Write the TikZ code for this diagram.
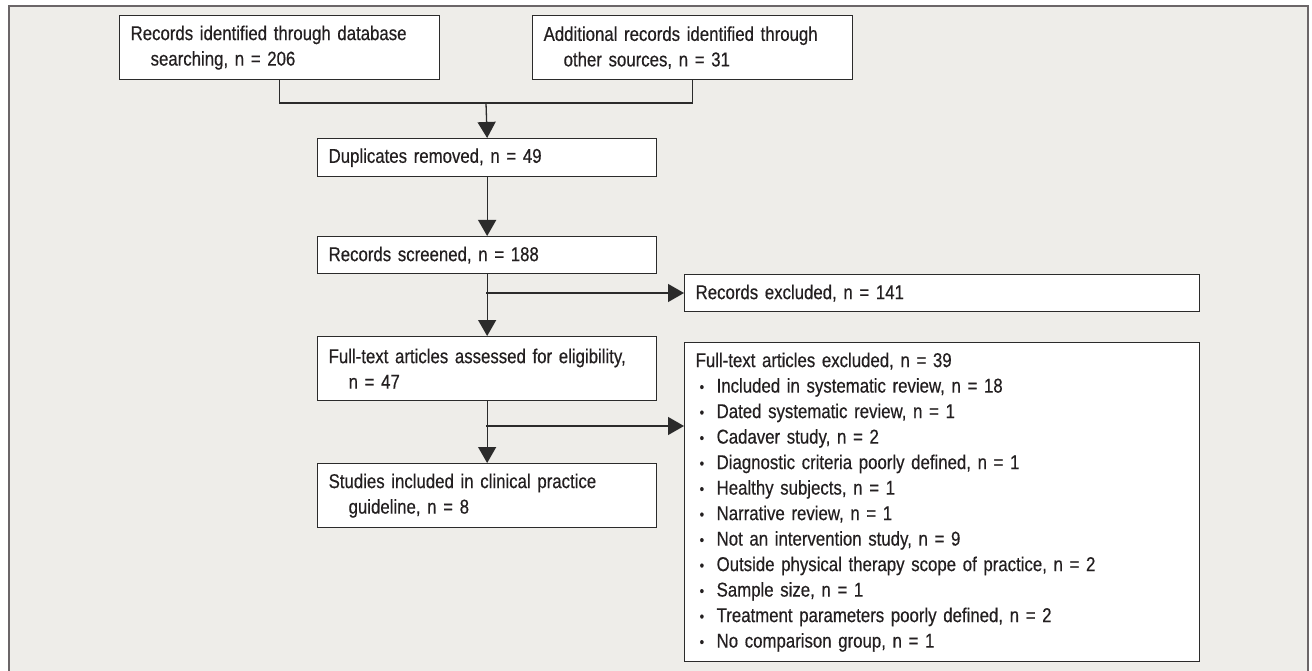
\documentclass[tikz,border=0pt]{standalone}
\usepackage{fontspec}
\setmainfont{Liberation Sans}[FakeStretch=0.84, WordSpace=0.85, FakeBold=0.4]
\usetikzlibrary{arrows.meta}
\definecolor{bgcol}{HTML}{EEEDE9}
\definecolor{framecol}{HTML}{6B6668}
\definecolor{linecol}{HTML}{2B2B2B}
\definecolor{textcol}{HTML}{231F20}
\newcommand{\blt}{\hspace*{4pt}\makebox[17pt][l]{\raisebox{0.5pt}{\fontsize{15}{15}\selectfont •}}}
\tikzset{
  box/.style={draw=linecol, line width=1.3pt, fill=white, anchor=north west,
    inner xsep=11pt, inner ysep=0pt, align=left, text=textcol,
    font=\fontsize{20}{25.5}\selectfont},
  flow/.style={draw=linecol, line width=1.3pt},
  arr/.style={flow, -{Triangle[length=16pt,width=18pt]}}
}
\begin{document}
\begin{tikzpicture}[x=1pt,y=-1pt]
\useasboundingbox (0,0) rectangle (1312,671);
\clip (0,0) rectangle (1312,671);
\fill[white] (0,0) rectangle (1312,671);
\draw[framecol, line width=1.5pt, fill=bgcol] (9,6) rectangle (1308,700);

\node[box, text width=298pt, minimum height=64pt] (b1) at (119,15)
  {Records identified through database\\\hspace*{20pt}searching, n = 206};
\node[box, text width=298pt, minimum height=64pt] (b2) at (532,15)
  {Additional records identified through\\\hspace*{20pt}other sources, n = 31};
\node[box, text width=317pt, minimum height=38pt] (dup) at (317,138)
  {Duplicates removed, n = 49};
\node[box, text width=317pt, minimum height=37pt] (scr) at (317,236)
  {Records screened, n = 188};
\node[box, text width=493pt, minimum height=37pt] (ex1) at (684,274)
  {Records excluded, n = 141};
\node[box, text width=317pt, minimum height=64pt] (full) at (317,336)
  {Full-text articles assessed for eligibility,\\\hspace*{20pt}n = 47};
\node[box, text width=493pt, minimum height=319pt] (ex2) at (684,342)
  {Full-text articles excluded, n = 39\\
   \blt Included in systematic review, n = 18\\
   \blt Dated systematic review, n = 1\\
   \blt Cadaver study, n = 2\\
   \blt Diagnostic criteria poorly defined, n = 1\\
   \blt Healthy subjects, n = 1\\
   \blt Narrative review, n = 1\\
   \blt Not an intervention study, n = 9\\
   \blt Outside physical therapy scope of practice, n = 2\\
   \blt Sample size, n = 1\\
   \blt Treatment parameters poorly defined, n = 2\\
   \blt No comparison group, n = 1};
\node[box, text width=317pt, minimum height=64pt] (stu) at (317,463)
  {Studies included in clinical practice\\\hspace*{20pt}guideline, n = 8};

\coordinate (mid) at (486,103);
\draw[flow] (b1.south) |- (mid) -| (b2.south);
\draw[arr] (mid) -- (dup.north);
\draw[arr] (dup.south) -- (scr.north);
\draw[arr] (scr.south) -- (full.north);
\coordinate (br1) at (486,293);
\draw[arr] (br1) -- (br1 -| ex1.west);
\draw[arr] (full.south) -- (stu.north);
\coordinate (br2) at (486,426);
\draw[arr] (br2) -- (br2 -| ex2.west);
\end{tikzpicture}
\end{document}
